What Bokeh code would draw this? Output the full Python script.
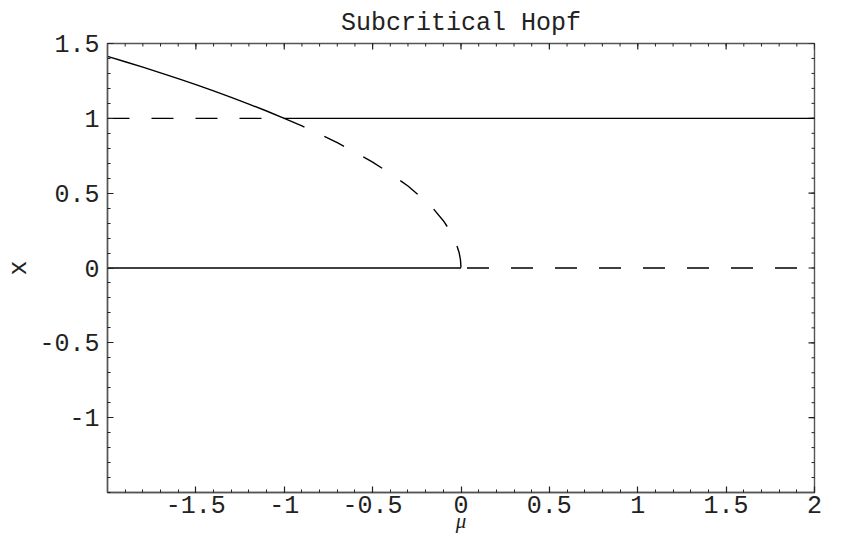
import math
from bokeh.plotting import figure
from bokeh.models import Range1d, LinearAxis, FixedTicker, CustomJSTickFormatter
from bokeh.embed import file_html
from bokeh.resources import INLINE

# ---- data ----
# stable large-amplitude branch (solid), mu in [-2, -1]
mu_stable_cycle = [-2.0, -1.9, -1.8, -1.7, -1.6, -1.5, -1.4, -1.3, -1.2, -1.1, -1.0]
x_stable_cycle = [1.414, 1.378, 1.342, 1.304, 1.265, 1.225, 1.183, 1.140, 1.095, 1.049, 1.0]
# unstable branch (dashed), mu in [-1, 0]
mu_unstable_cycle = [-1.0, -0.9, -0.8, -0.7, -0.6, -0.5, -0.4, -0.3, -0.2, -0.15, -0.1,
                     -0.06, -0.03, -0.01, -0.003, 0.0]
x_unstable_cycle = [1.0, 0.949, 0.894, 0.837, 0.775, 0.707, 0.632, 0.548, 0.447, 0.387,
                    0.316, 0.245, 0.173, 0.1, 0.055, 0.0]
# fixed point x = 0: stable for mu < 0, unstable for mu > 0
mu_origin_stable = [-2.0, 0.0]
x_origin_stable = [0.0, 0.0]
mu_origin_unstable = [0.0, 2.0]
x_origin_unstable = [0.0, 0.0]
# x = 1 branch: unstable for mu < -1, stable for mu > -1
mu_one_unstable = [-2.0, -1.0]
x_one_unstable = [1.0, 1.0]
mu_one_stable = [-1.0, 2.0]
x_one_stable = [1.0, 1.0]

x_major = [-1.5, -1.0, -0.5, 0.0, 0.5, 1.0, 1.5, 2.0]
y_major = [-1.0, -0.5, 0.0, 0.5, 1.0, 1.5]
x_minor = [round(-2.0 + 0.1 * i, 2) for i in range(41)]
y_minor = [round(-1.5 + 0.1 * i, 2) for i in range(31)]

title_text = "Subcritical Hopf"
xlabel = "μ"
ylabel = "x"

MONO = "Liberation Mono"
AXC = "#555555"
TXT = "#222222"
X0, X1, Y0, Y1 = -2.0, 2.0, -1.5, 1.5

p = figure(width=828, height=536, output_backend="svg", toolbar_location=None,
           x_range=Range1d(X0, X1), y_range=Range1d(Y0, Y1),
           x_axis_location=None, y_axis_location=None,
           min_border_left=107, min_border_right=14, min_border_top=43, min_border_bottom=44)
p.grid.visible = False
p.outline_line_color = AXC
p.outline_line_width = 1.4
p.background_fill_color = "white"
p.border_fill_color = "white"

p.title.text = title_text
p.title.text_font = MONO
p.title.text_font_size = "25px"
p.title.text_font_style = "normal"
p.title.align = "center"
p.title.text_color = TXT
p.title.standoff = 12

fmt = CustomJSTickFormatter(code="return tick.toString();")

def style(ax):
    ax.axis_line_color = AXC
    ax.axis_line_width = 1.4
    ax.major_tick_in = 6
    ax.major_tick_out = 0
    ax.minor_tick_in = 3
    ax.minor_tick_out = 0
    ax.major_tick_line_color = TXT
    ax.minor_tick_line_color = TXT
    ax.major_tick_line_width = 1.2
    ax.minor_tick_line_width = 1.0
    ax.major_label_text_font = MONO
    ax.major_label_text_font_size = "25px"
    ax.major_label_text_color = TXT
    ax.formatter = fmt

xb = LinearAxis(ticker=FixedTicker(ticks=x_major, minor_ticks=x_minor))
style(xb)
xb.major_label_standoff = 3
xb.axis_label = xlabel
xb.axis_label_text_font = "Liberation Serif"
xb.axis_label_text_font_style = "italic"
xb.axis_label_text_font_size = "21px"
xb.axis_label_standoff = -7
xb.axis_label_text_color = TXT
p.add_layout(xb, "below")

yl = LinearAxis(ticker=FixedTicker(ticks=y_major, minor_ticks=y_minor))
style(yl)
yl.major_label_standoff = 8
yl.axis_label = ylabel
yl.axis_label_text_font = MONO
yl.axis_label_text_font_style = "normal"
yl.axis_label_text_font_size = "25px"
yl.axis_label_standoff = 2
yl.axis_label_text_color = TXT
p.add_layout(yl, "left")

# mirrored inward ticks on the top and right frame edges (half of each marker is clipped)
p.scatter(x_major, [Y1] * len(x_major), marker="dash", angle=math.pi / 2, size=12,
          line_color=TXT, line_width=1.2)
p.scatter(x_minor, [Y1] * len(x_minor), marker="dash", angle=math.pi / 2, size=6,
          line_color=TXT, line_width=1.0)
p.scatter([X1] * len(y_major), y_major, marker="dash", size=12, line_color=TXT, line_width=1.2)
p.scatter([X1] * len(y_minor), y_minor, marker="dash", size=6, line_color=TXT, line_width=1.0)

LW = 1.4
p.line(mu_stable_cycle, x_stable_cycle, line_color="black", line_width=LW)
p.line(mu_unstable_cycle, x_unstable_cycle, line_color="black", line_width=LW, line_dash="22 22")
p.line(mu_origin_stable, x_origin_stable, line_color="black", line_width=LW)
p.line(mu_origin_unstable, x_origin_unstable, line_color="black", line_width=LW,
       line_dash="22 22", line_dash_offset=38)
p.line(mu_one_unstable, x_one_unstable, line_color="black", line_width=LW, line_dash="22 22")
p.line(mu_one_stable, x_one_stable, line_color="black", line_width=LW)

open("out.html", "w").write(file_html(p, INLINE))
